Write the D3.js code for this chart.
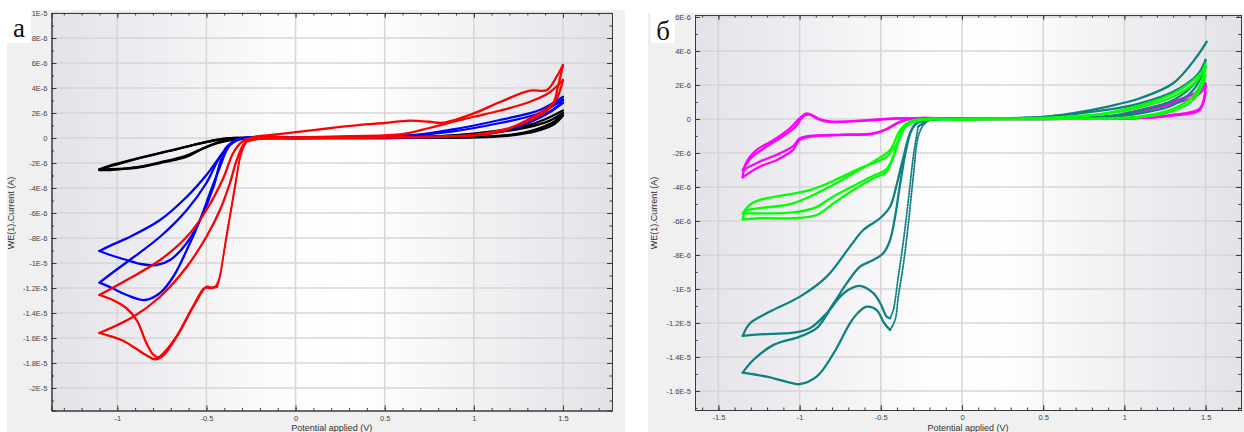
<!DOCTYPE html>
<html><head><meta charset="utf-8">
<script src="https://cdn.jsdelivr.net/npm/d3@7"></script>
<style>body{margin:0;background:#fff}svg{display:block}</style>
</head><body>
<svg id="chart" width="1244" height="432"></svg>
<script>
// ---------- tick labels ----------
const xTicksA=[-1,-0.5,0,0.5,1,1.5];
const xTickLabelsA=["-1","-0.5","0","0.5","1","1.5"];
const yTicksA=[10,8,6,4,2,0,-2,-4,-6,-8,-10,-12,-14,-16,-18,-20];
const yTickLabelsA=["1E-5","8E-6","6E-6","4E-6","2E-6","0","-2E-6","-4E-6","-6E-6","-8E-6","-1E-5","-1.2E-5","-1.4E-5","-1.6E-5","-1.8E-5","-2E-5"];
const xTicksB=[-1.5,-1,-0.5,0,0.5,1,1.5];
const xTickLabelsB=["-1.5","-1","-0.5","0","0.5","1","1.5"];
const yTicksB=[6,4,2,0,-2,-4,-6,-8,-10,-12,-14,-16];
const yTickLabelsB=["6E-6","4E-6","2E-6","0","-2E-6","-4E-6","-6E-6","-8E-6","-1E-5","-1.2E-5","-1.4E-5","-1.6E-5"];

// ---------- panel а  (E in V, I in units of 1E-6 A) ----------
const blackCath1=[[1.5,1.8],[1.45,1.1],[1.35,0.55],[1.2,0.2],[1.0,0.05],[0.5,0],[0,0],[-0.3,-0.05],[-0.37,-0.15],[-0.44,-0.37],[-0.536,-0.96],[-0.61,-1.5],[-0.69,-1.8],[-0.76,-2.0],[-0.856,-2.3],[-0.95,-2.45],[-1.04,-2.56],[-1.1,-2.56]];
const blackAnod1=[[-1.1,-2.56],[-1.05,-2.3],[-0.947,-1.9],[-0.86,-1.55],[-0.76,-1.22],[-0.66,-0.88],[-0.575,-0.56],[-0.46,-0.2],[-0.35,0],[0,0.02],[0.5,0.05],[0.8,0.15],[1.0,0.35],[1.15,0.6],[1.3,1.0],[1.4,1.5],[1.5,2.2]];
const blackCath2=[[1.5,2.0],[1.45,1.3],[1.35,0.7],[1.2,0.25],[1.0,0.08],[0.5,0],[0,0],[-0.3,-0.05],[-0.38,-0.2],[-0.45,-0.45],[-0.53,-0.9],[-0.62,-1.45],[-0.76,-1.95],[-0.87,-2.3],[-0.96,-2.45],[-1.04,-2.5],[-1.1,-2.5]];
const blackAnod2=[[-1.1,-2.5],[-1.04,-2.2],[-0.947,-1.85],[-0.85,-1.5],[-0.74,-1.12],[-0.62,-0.72],[-0.52,-0.38],[-0.42,-0.1],[-0.33,0],[0,0.02],[0.5,0.04],[0.8,0.12],[1.0,0.3],[1.15,0.5],[1.3,0.85],[1.42,1.35],[1.5,2.0]];

const blueCath1=[[1.5,2.8],[1.41,1.97],[1.3,1.2],[1.146,0.5],[1.0,0.2],[0.5,0.03],[0,0],[-0.3,-0.05],[-0.386,-0.7],[-0.424,-2.0],[-0.46,-3.9],[-0.536,-6.56],[-0.61,-8.4],[-0.704,-9.76],[-0.78,-10.16],[-0.86,-10.1],[-0.947,-9.76],[-1.03,-9.4],[-1.1,-9.04]];
const blueAnod1=[[-1.1,-9.04],[-1.03,-8.55],[-0.947,-8.03],[-0.76,-6.56],[-0.61,-4.7],[-0.5,-2.96],[-0.424,-1.5],[-0.368,-0.56],[-0.295,0],[0,0.02],[0.585,0.1],[0.865,0.64],[1.146,1.44],[1.37,2.24],[1.5,3.3]];
const blueCath2=[[1.5,3.0],[1.45,2.3],[1.35,1.5],[1.2,0.7],[1.0,0.25],[0.5,0.03],[0,0],[-0.3,-0.05],[-0.35,-0.25],[-0.386,-0.96],[-0.424,-2.3],[-0.48,-4.4],[-0.536,-6.56],[-0.61,-8.96],[-0.686,-11.1],[-0.76,-12.4],[-0.845,-12.96],[-0.947,-12.56],[-1.03,-12.0],[-1.1,-11.57]];
const blueAnod2=[[-1.1,-11.57],[-1.02,-10.7],[-0.93,-9.76],[-0.76,-7.9],[-0.61,-5.76],[-0.5,-3.6],[-0.424,-1.5],[-0.35,-0.3],[-0.27,0],[0,0.02],[0.5,0.1],[0.865,0.5],[1.146,1.2],[1.37,2.0],[1.5,3.1]];

const redCath1=[[1.5,5.84],[1.47,4.0],[1.445,2.8],[1.333,1.7],[1.146,0.5],[1.0,0.2],[0.5,0.05],[0,0],[-0.2,-0.05],[-0.27,-0.2]];
const redDrop1=[[-0.27,-0.2],[-0.3,-0.96],[-0.33,-3.0],[-0.36,-5.5],[-0.39,-8.0],[-0.424,-11.1],[-0.44,-11.9]];
const redPeak1=[[-0.44,-11.9],[-0.47,-12.0],[-0.5,-11.9],[-0.574,-13.5],[-0.667,-15.9],[-0.742,-17.4],[-0.79,-17.7],[-0.835,-17.4],[-0.9,-16.8],[-0.97,-16.2],[-1.04,-15.85],[-1.1,-15.6]];
const redAnod1=[[-1.1,-15.6],[-0.91,-14.3],[-0.76,-12.7],[-0.61,-10.3],[-0.5,-7.9],[-0.424,-5.76],[-0.368,-3.6],[-0.33,-1.76],[-0.293,-0.56],[-0.25,0],[-0.1,0.3],[0.05,0.55],[0.2,0.8],[0.36,1.05],[0.5,1.2],[0.64,1.39],[0.75,1.3],[0.83,1.23],[1.0,1.97],[1.15,2.9],[1.315,3.79],[1.41,3.84],[1.46,4.8],[1.5,5.84]];
const redCath2=[[1.5,4.64],[1.47,3.3],[1.42,2.3],[1.33,1.5],[1.2,0.8],[1.0,0.25],[0.5,0.05],[0,0],[-0.2,-0.05],[-0.28,-0.3]];
const redDrop2=[[-0.28,-0.3],[-0.31,-1.5],[-0.34,-4.0],[-0.37,-6.5],[-0.4,-9.0],[-0.43,-11.3],[-0.45,-11.9]];
const redPeak2=[[-0.45,-11.9],[-0.48,-12.0],[-0.51,-12.0],[-0.58,-13.6],[-0.66,-15.7],[-0.74,-17.2],[-0.77,-17.55],[-0.8,-17.3],[-0.84,-16.3],[-0.89,-14.6],[-0.95,-13.6],[-1.02,-13.0],[-1.1,-12.56]];
const redAnod2=[[-1.1,-12.56],[-0.947,-11.36],[-0.76,-9.76],[-0.61,-7.9],[-0.5,-5.76],[-0.405,-3.2],[-0.35,-1.2],[-0.3,-0.3],[-0.25,0],[0,0.05],[0.3,0.15],[0.6,0.3],[0.75,0.8],[0.885,1.3],[1.0,1.7],[1.15,2.2],[1.315,2.9],[1.42,3.6],[1.5,4.64]];

// ---------- panel б ----------
const magentaCath1=[[1.5,2.0],[1.466,0.63],[1.3,0.25],[1.096,0.06],[0.5,0],[0,0],[-0.3,0.04],[-0.38,-0.16],[-0.464,-0.6],[-0.546,-0.88],[-0.73,-0.94],[-0.936,-1.04],[-1.0,-1.24],[-1.04,-1.82],[-1.14,-2.41],[-1.244,-2.8],[-1.35,-3.43]];
const magentaAnod1=[[-1.35,-3.43],[-1.33,-2.6],[-1.264,-1.82],[-1.16,-1.24],[-1.06,-0.55],[-1.0,0.04],[-0.956,0.33],[-0.895,0.04],[-0.833,-0.16],[-0.628,-0.1],[-0.42,0.04],[0,0.03],[0.5,0.05],[0.89,0.14],[1.096,0.53],[1.3,1.02],[1.45,1.6],[1.5,2.1]];
const magentaCath2=[[1.5,1.6],[1.46,0.5],[1.3,0.2],[1.1,0.05],[0.5,0],[0,0],[-0.3,0.03],[-0.39,-0.2],[-0.47,-0.62],[-0.55,-0.85],[-0.74,-0.92],[-0.936,-1.0],[-1.0,-1.15],[-1.04,-1.6],[-1.14,-2.1],[-1.244,-2.5],[-1.35,-3.0]];
const magentaAnod2=[[-1.35,-3.0],[-1.3,-2.3],[-1.2,-1.6],[-1.1,-1.0],[-1.03,-0.5],[-0.97,0.2],[-0.93,0.25],[-0.88,0.0],[-0.8,-0.15],[-0.6,-0.1],[-0.4,0.02],[0,0.02],[0.5,0.04],[0.89,0.12],[1.1,0.45],[1.3,0.9],[1.45,1.4],[1.5,1.9]];

const greenCath1=[[1.5,2.6],[1.486,2.1],[1.424,1.12],[1.3,0.47],[1.096,0.1],[0.5,0],[0,-0.02],[-0.26,-0.06],[-0.34,-0.35],[-0.38,-1.04],[-0.423,-2.22],[-0.464,-3.1],[-0.546,-3.49],[-0.67,-4.18],[-0.79,-4.96],[-0.895,-5.65],[-1.04,-5.84],[-1.244,-5.84],[-1.35,-5.9]];
const greenAnod1=[[-1.35,-5.9],[-1.33,-5.4],[-1.244,-5.25],[-1.04,-4.96],[-0.833,-4.08],[-0.67,-3.2],[-0.546,-2.51],[-0.443,-1.82],[-0.38,-0.65],[-0.32,-0.16],[-0.2,-0.02],[0.5,0.05],[0.89,0.3],[1.096,0.69],[1.3,1.31],[1.45,2.3],[1.5,3.27]];
const greenCath2=[[1.5,3.0],[1.48,2.3],[1.42,1.3],[1.3,0.6],[1.1,0.15],[0.5,0],[0,-0.02],[-0.27,-0.08],[-0.35,-0.5],[-0.39,-1.3],[-0.43,-2.4],[-0.47,-3.0],[-0.55,-3.35],[-0.67,-3.95],[-0.8,-4.6],[-0.9,-5.2],[-1.04,-5.5],[-1.244,-5.55],[-1.35,-5.55]];
const greenAnod2=[[-1.35,-5.55],[-1.3,-5.0],[-1.244,-4.76],[-0.936,-4.18],[-0.79,-3.63],[-0.628,-2.9],[-0.464,-2.22],[-0.4,-1.43],[-0.36,-0.45],[-0.3,-0.08],[0,0],[0.5,0.06],[0.89,0.35],[1.096,0.8],[1.3,1.5],[1.45,2.5],[1.5,3.1]];

const tealCath1=[[1.5,3.08],[1.424,1.7],[1.3,0.82],[1.096,0.33],[0.89,0.1],[0.5,0.02],[0,0],[-0.2,-0.05],[-0.27,-0.45]];
const tealDrop1=[[-0.27,-0.45],[-0.3,-2.22],[-0.33,-4.76],[-0.36,-7.12],[-0.392,-9.27],[-0.423,-11.24],[-0.443,-11.72]];
const tealPeak1=[[-0.443,-11.72],[-0.464,-11.63],[-0.5,-10.9],[-0.546,-10.25],[-0.628,-9.82],[-0.69,-10.0],[-0.75,-10.45],[-0.833,-11.43],[-0.936,-12.31],[-1.04,-12.57],[-1.244,-12.67],[-1.35,-12.76]];
const tealAnod1=[[-1.35,-12.76],[-1.305,-12.02],[-1.182,-11.33],[-0.998,-10.45],[-0.833,-9.27],[-0.69,-7.51],[-0.608,-6.53],[-0.505,-5.84],[-0.443,-5.16],[-0.4,-3.78],[-0.36,-2.22],[-0.32,-0.84],[-0.28,-0.25],[-0.217,-0.06],[0,0],[0.48,0.1],[0.685,0.34],[0.891,0.72],[1.096,1.22],[1.3,2.1],[1.445,3.66],[1.507,4.55]];
const tealCath2=[[1.5,3.47],[1.45,2.3],[1.3,1.1],[1.096,0.5],[0.89,0.15],[0.5,0.03],[0,0],[-0.2,-0.05],[-0.24,-0.35]];
const tealDrop2=[[-0.24,-0.35],[-0.27,-1.04],[-0.3,-3.39],[-0.33,-6.14],[-0.36,-8.49],[-0.392,-10.45],[-0.412,-11.82],[-0.443,-12.41]];
const tealPeak2=[[-0.443,-12.41],[-0.48,-12.0],[-0.525,-11.24],[-0.587,-11.04],[-0.64,-11.4],[-0.69,-12.02],[-0.79,-13.78],[-0.895,-15.16],[-1.0,-15.6],[-1.04,-15.55],[-1.203,-15.16],[-1.35,-14.92]];
const tealAnod2=[[-1.35,-14.92],[-1.285,-14.18],[-1.16,-13.29],[-0.998,-12.8],[-0.895,-12.31],[-0.79,-10.84],[-0.71,-9.67],[-0.628,-8.69],[-0.546,-8.29],[-0.485,-7.9],[-0.443,-7.12],[-0.412,-5.75],[-0.38,-3.78],[-0.34,-1.63],[-0.3,-0.45],[-0.24,-0.1],[0,0],[0.5,0.12],[0.89,0.53],[1.096,0.92],[1.3,1.6],[1.45,2.6],[1.5,3.47]];

// ---------- drawing ----------
const svg=d3.select("#chart");
const defs=svg.append("defs");

function drawPanel(cfg){
  const g=svg.append("g");
  g.append("rect").attr("x",cfg.outer[0]).attr("y",cfg.outer[1]).attr("width",cfg.outer[2]).attr("height",cfg.outer[3]).attr("fill","#f0f0f0");
  const gid="grad"+cfg.id;
  const gr=defs.append("linearGradient").attr("id",gid).attr("x1","0").attr("x2","1").attr("y1","0").attr("y2","0");
  [[0,"#e2e2e8"],[0.42,"#fdfdfe"],[0.55,"#ffffff"],[1,"#e2e2e8"]].forEach(s=>gr.append("stop").attr("offset",s[0]).attr("stop-color",s[1]));
  const L=cfg.plot[0],T=cfg.plot[1],R=cfg.plot[2],B=cfg.plot[3];
  const x=d3.scaleLinear().domain(cfg.xDomain).range([L,R]);
  const y=d3.scaleLinear().domain(cfg.yDomain).range([B,T]);
  g.append("rect").attr("x",L).attr("y",T).attr("width",R-L).attr("height",B-T).attr("fill","url(#"+gid+")");
  // grid
  g.append("g").selectAll("line").data(cfg.xTicks).join("line")
    .attr("x1",d=>x(d)).attr("x2",d=>x(d)).attr("y1",T).attr("y2",B).attr("stroke","#d6d6d6").attr("stroke-width",1.5);
  g.append("g").selectAll("line").data(cfg.yTicks).join("line")
    .attr("y1",d=>y(d)).attr("y2",d=>y(d)).attr("x1",L).attr("x2",R).attr("stroke","#d6d6d6").attr("stroke-width",1.5);
  // curves
  const cid="clip"+cfg.id;
  defs.append("clipPath").attr("id",cid).append("rect").attr("x",L).attr("y",T).attr("width",R-L).attr("height",B-T);
  const line=d3.line().x(d=>x(d[0])).y(d=>y(d[1])).curve(d3.curveCatmullRom.alpha(0.5));
  const cg=g.append("g").attr("clip-path","url(#"+cid+")");
  cfg.series.forEach(s=>{
    cg.append("path").attr("d",line(s.data)).attr("fill","none").attr("stroke",s.color)
      .attr("stroke-width",s.dotted?1.8:2.3).attr("stroke-dasharray",s.dotted?"1.3,1.5":null)
      .attr("stroke-linejoin","round").attr("stroke-linecap","round");
  });
  // axes
  const fmtX=(d)=>cfg.xLabels[cfg.xTicks.indexOf(d)];
  const fmtY=(d)=>cfg.yLabels[cfg.yTicks.indexOf(d)];
  const xMinor=d3.range(Math.ceil(cfg.xDomain[0]*10),Math.floor(cfg.xDomain[1]*10)+1).map(v=>v/10);
  const yMinor=d3.range(Math.ceil(cfg.yDomain[0]),Math.floor(cfg.yDomain[1])+1);
  const ax=[
    [d3.axisBottom(x).tickValues(cfg.xTicks).tickFormat(fmtX).tickSize(-5).tickPadding(5),0,B],
    [d3.axisBottom(x).tickValues(xMinor).tickFormat("").tickSize(-2.5),0,B],
    [d3.axisTop(x).tickValues(cfg.xTicks).tickFormat("").tickSize(-5),0,T],
    [d3.axisTop(x).tickValues(xMinor).tickFormat("").tickSize(-2.5),0,T],
    [d3.axisLeft(y).tickValues(cfg.yTicks).tickFormat(fmtY).tickSize(-5).tickPadding(4),L,0],
    [d3.axisLeft(y).tickValues(yMinor).tickFormat("").tickSize(-2.5),L,0],
    [d3.axisRight(y).tickValues(cfg.yTicks).tickFormat("").tickSize(-5),R,0],
    [d3.axisRight(y).tickValues(yMinor).tickFormat("").tickSize(-2.5),R,0]
  ];
  ax.forEach(a=>{
    const ag=g.append("g").attr("transform",`translate(${a[1]},${a[2]})`).call(a[0]);
    ag.selectAll("path.domain").attr("stroke","#3a3a3a");
    ag.selectAll(".tick line").attr("stroke","#3a3a3a");
    ag.selectAll("text").attr("fill","#444").style("font-family","'Liberation Sans',Arial,sans-serif").style("font-size","7.5px");
  });
  // titles
  g.append("text").attr("x",(L+R)/2).attr("y",cfg.xTitleY).attr("text-anchor","middle")
    .style("font-family","'Liberation Sans',Arial,sans-serif").style("font-size","9px").attr("fill","#333").text("Potential applied (V)");
  g.append("text").attr("transform",`translate(${cfg.yTitleX},${cfg.yTitleY}) rotate(-90)`).attr("text-anchor","middle")
    .style("font-family","'Liberation Sans',Arial,sans-serif").style("font-size","9px").attr("fill","#333").text("WE(1).Current (A)");
  // panel letter
  g.append("rect").attr("x",cfg.letterBox[0]).attr("y",cfg.letterBox[1]).attr("width",cfg.letterBox[2]).attr("height",cfg.letterBox[3]).attr("fill","#fff");
  g.append("text").attr("x",cfg.letterBox[0]+cfg.letterBox[2]/2).attr("y",cfg.letterBox[1]+27).attr("text-anchor","middle")
    .style("font-family","'Liberation Serif','Times New Roman',serif").style("font-size","27px").attr("fill","#111").text(cfg.letter);
}

drawPanel({id:"A",outer:[7,10,618,422],plot:[51.5,13,612,410.5],xDomain:[-1.369,1.775],yDomain:[-21.8,10.0],
  xTicks:xTicksA,xLabels:xTickLabelsA,yTicks:yTicksA,yLabels:yTickLabelsA,xTitleY:431,yTitleX:14,yTitleY:213,
  letterBox:[7,10,24,33],letter:"а",
  series:[
    {data:blackCath1,color:"#000"},{data:blackAnod1,color:"#000"},{data:blackCath2,color:"#000"},{data:blackAnod2,color:"#000"},
    {data:blueCath1,color:"#0000ff"},{data:blueAnod1,color:"#0000ff"},{data:blueCath2,color:"#0000ff"},{data:blueAnod2,color:"#0000ff"},
    {data:redCath1,color:"#ff0000"},{data:redDrop1,color:"#ff0000",dotted:true},{data:redPeak1,color:"#ff0000"},{data:redAnod1,color:"#ff0000"},
    {data:redCath2,color:"#ff0000"},{data:redDrop2,color:"#ff0000",dotted:true},{data:redPeak2,color:"#ff0000"},{data:redAnod2,color:"#ff0000"}
  ]});

drawPanel({id:"B",outer:[648,13,596,419],plot:[695,15,1241,410],xDomain:[-1.644,1.718],yDomain:[-17.12,6.118],
  xTicks:xTicksB,xLabels:xTickLabelsB,yTicks:yTicksB,yLabels:yTickLabelsB,xTitleY:431,yTitleX:657,yTitleY:213,
  letterBox:[651,13,24,30],letter:"б",
  series:[
    {data:magentaCath1,color:"#ff00ff"},{data:magentaAnod1,color:"#ff00ff"},{data:magentaCath2,color:"#ff00ff"},{data:magentaAnod2,color:"#ff00ff"},
    {data:tealCath1,color:"#108080"},{data:tealDrop1,color:"#108080",dotted:true},{data:tealPeak1,color:"#108080"},{data:tealAnod1,color:"#108080"},
    {data:tealCath2,color:"#108080"},{data:tealDrop2,color:"#108080",dotted:true},{data:tealPeak2,color:"#108080"},{data:tealAnod2,color:"#108080"},
    {data:greenCath1,color:"#00ff00"},{data:greenAnod1,color:"#00ff00"},{data:greenCath2,color:"#00ff00"},{data:greenAnod2,color:"#00ff00"}
  ]});
</script>
</body></html>
